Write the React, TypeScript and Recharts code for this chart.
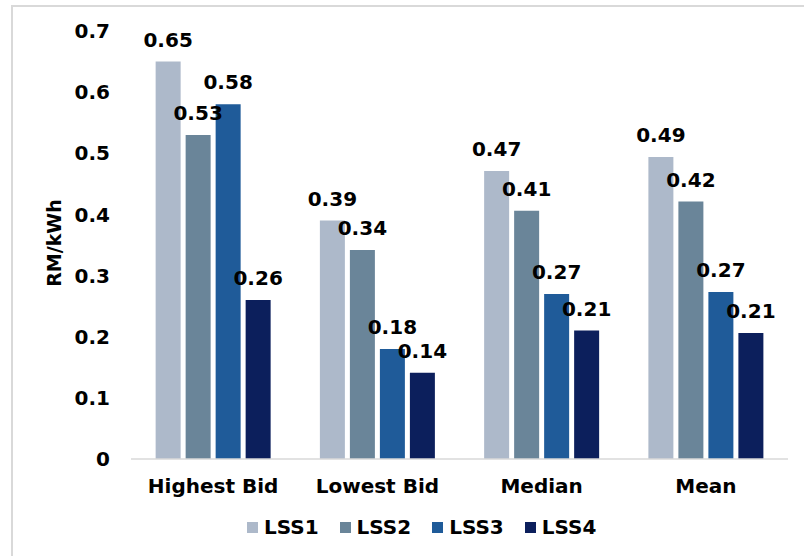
import { BarChart, Bar, XAxis, YAxis, Legend, LabelList } from "recharts"

const categories = ["Highest Bid", "Lowest Bid", "Median", "Mean"]
const lss1 = [0.65, 0.39, 0.471, 0.494]
const lss2 = [0.53, 0.342, 0.406, 0.421]
const lss3 = [0.58, 0.18, 0.27, 0.273]
const lss4 = [0.26, 0.141, 0.21, 0.206]
const yTicks = [0, 0.1, 0.2, 0.3, 0.4, 0.5, 0.6, 0.7]

const series = [
    { key: "LSS1", values: lss1, color: "#adb9ca" },
    { key: "LSS2", values: lss2, color: "#6a8599" },
    { key: "LSS3", values: lss3, color: "#1f5b99" },
    { key: "LSS4", values: lss4, color: "#0c1f5c" },
]

const data = categories.map((name, i) => {
    const row: Record<string, string | number> = { name }
    series.forEach((s) => (row[s.key] = s.values[i]))
    return row
})

const font = "'DejaVu Sans', Verdana, sans-serif"
const textStyle = { fontFamily: font, fontWeight: 700, fontSize: 20, fill: "#000" }

const renderLegend = (props: any) => (
    <div style={{ display: "flex", alignItems: "center", height: 24, fontFamily: font, fontWeight: 700, fontSize: 20 }}>
        {props.payload.map((p: any) => (
            <div key={p.value} style={{ display: "flex", alignItems: "center", marginRight: 21 }}>
                <span style={{ width: 11, height: 11, background: p.color, marginRight: 6, display: "inline-block" }} />
                <span>{p.value}</span>
            </div>
        ))}
    </div>
)

const yLabel = (props: any) => {
    const vb = props.viewBox
    const x = 54
    const y = vb.y + vb.height / 2 - 2
    return (
        <text
            x={x}
            y={y}
            transform={`rotate(-90, ${x}, ${y})`}
            textAnchor="middle"
            dominantBaseline="central"
            style={{ fontFamily: font, fontWeight: 700, fontSize: 19 }}
        >
            RM/kWh
        </text>
    )
}

export default function App() {
    return (
        <div style={{ position: "absolute", left: 0, top: 0, width: 804, height: 556, overflow: "hidden", background: "#fff" }}>
            <div
                style={{
                    position: "absolute",
                    left: 11,
                    top: 5,
                    width: 840,
                    height: 600,
                    borderLeft: "2px solid #d9d9d9",
                    borderTop: "2px solid #d9d9d9",
                }}
            />
            <div style={{ position: "absolute", left: 0, top: 0 }}>
                <BarChart
                    width={804}
                    height={556}
                    data={data}
                    margin={{ top: 31, right: 16, left: 0, bottom: 13 }}
                    barCategoryGap="15%"
                    barGap={5}
                >
                    <XAxis
                        dataKey="name"
                        height={60}
                        axisLine={{ stroke: "#d9d9d9", strokeWidth: 1.5 }}
                        tickLine={false}
                        tickSize={0}
                        tickMargin={20}
                        tick={textStyle}
                        interval={0}
                    />
                    <YAxis
                        width={131}
                        domain={[0, 0.7]}
                        ticks={yTicks}
                        axisLine={false}
                        tickLine={false}
                        tickSize={0}
                        tickMargin={21}
                        tick={textStyle}
                        tickFormatter={(v: number) => (v === 0 ? "0" : String(v))}
                        label={{ content: yLabel }}
                    />
                    <Legend
                        content={renderLegend}
                        verticalAlign="bottom"
                        height={24}
                        wrapperStyle={{ left: 247, top: 515, width: "auto" }}
                    />
                    {series.map((s) => (
                        <Bar key={s.key} dataKey={s.key} fill={s.color} isAnimationActive={false}>
                            <LabelList
                                dataKey={s.key}
                                position="top"
                                offset={15}
                                formatter={(v: number) => v.toFixed(2)}
                                style={textStyle}
                            />
                        </Bar>
                    ))}
                </BarChart>
            </div>
        </div>
    )
}
